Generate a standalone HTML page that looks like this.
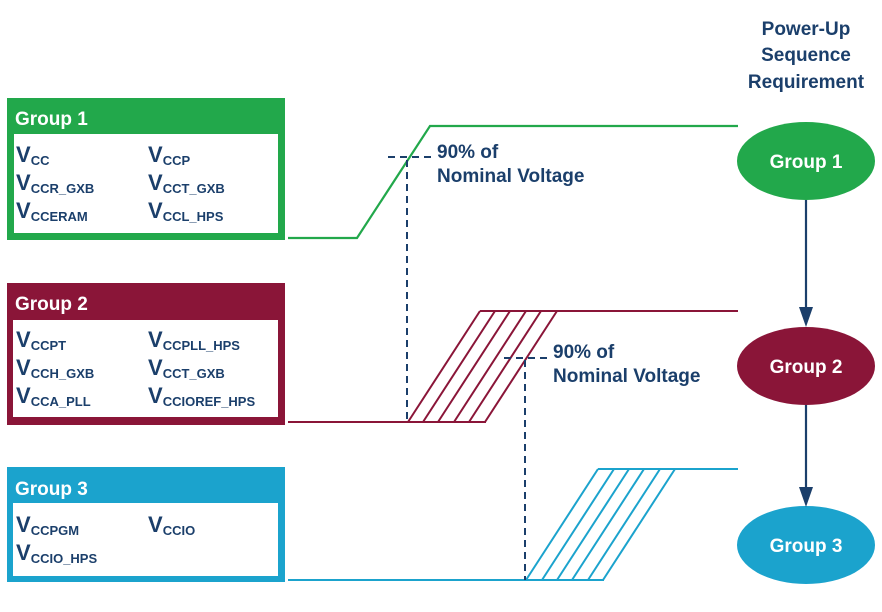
<!DOCTYPE html>
<html><head><meta charset="utf-8"><style>
html,body{margin:0;padding:0;background:#fff;}
svg{display:block;font-family:"Liberation Sans",Arial,sans-serif;font-weight:bold;}
.v{fill:#1b3f6b;font-size:22px;}
.s{font-size:13px;}
.t{fill:#1b3f6b;font-size:19px;}
.w{fill:#fff;font-size:19px;}
</style></head><body>
<svg width="882" height="612" viewBox="0 0 882 612" xmlns="http://www.w3.org/2000/svg">

<text x="806" y="35" text-anchor="middle" class="t">Power-Up</text>
<text x="806" y="61" text-anchor="middle" class="t">Sequence</text>
<text x="806" y="88" text-anchor="middle" class="t">Requirement</text>

<rect x="7" y="98" width="278" height="142" fill="#22a84b"/>
<rect x="14" y="134" width="264" height="99" fill="#fff"/>
<text x="15" y="125" class="w">Group 1</text>
<text x="16" y="162" class="v">V<tspan class="s" dy="3">CC</tspan></text>
<text x="148" y="162" class="v">V<tspan class="s" dy="3">CCP</tspan></text>
<text x="16" y="190" class="v">V<tspan class="s" dy="3">CCR_GXB</tspan></text>
<text x="148" y="190" class="v">V<tspan class="s" dy="3">CCT_GXB</tspan></text>
<text x="16" y="218" class="v">V<tspan class="s" dy="3">CCERAM</tspan></text>
<text x="148" y="218" class="v">V<tspan class="s" dy="3">CCL_HPS</tspan></text>

<rect x="7" y="283" width="278" height="142" fill="#8a1538"/>
<rect x="13" y="320" width="265" height="97" fill="#fff"/>
<text x="15" y="310" class="w">Group 2</text>
<text x="16" y="347" class="v">V<tspan class="s" dy="3">CCPT</tspan></text>
<text x="148" y="347" class="v">V<tspan class="s" dy="3">CCPLL_HPS</tspan></text>
<text x="16" y="375" class="v">V<tspan class="s" dy="3">CCH_GXB</tspan></text>
<text x="148" y="375" class="v">V<tspan class="s" dy="3">CCT_GXB</tspan></text>
<text x="16" y="403" class="v">V<tspan class="s" dy="3">CCA_PLL</tspan></text>
<text x="148" y="403" class="v">V<tspan class="s" dy="3">CCIOREF_HPS</tspan></text>

<rect x="7" y="467" width="278" height="115" fill="#1ba3cd"/>
<rect x="13" y="503" width="265" height="73" fill="#fff"/>
<text x="15" y="495" class="w">Group 3</text>
<text x="16" y="532" class="v">V<tspan class="s" dy="3">CCPGM</tspan></text>
<text x="148" y="532" class="v">V<tspan class="s" dy="3">CCIO</tspan></text>
<text x="16" y="560" class="v">V<tspan class="s" dy="3">CCIO_HPS</tspan></text>

<polyline points="288,238 357,238 430,126 738,126" fill="none" stroke="#22a84b" stroke-width="2.2"/>

<g stroke="#8a1538" stroke-width="2" fill="none">
<line x1="288" y1="422" x2="486" y2="422"/>
<line x1="480" y1="311" x2="738" y2="311"/>
<line x1="408" y1="422" x2="480" y2="311"/>
<line x1="423" y1="422" x2="495" y2="311"/>
<line x1="438" y1="422" x2="510" y2="311"/>
<line x1="454" y1="422" x2="526" y2="311"/>
<line x1="469" y1="422" x2="541" y2="311"/>
<line x1="485" y1="422" x2="557" y2="311"/>
</g>

<g stroke="#1ba3cd" stroke-width="2" fill="none">
<line x1="288" y1="580" x2="604" y2="580"/>
<line x1="598" y1="469" x2="738" y2="469"/>
<line x1="526" y1="580" x2="598" y2="469"/>
<line x1="542" y1="580" x2="614" y2="469"/>
<line x1="557" y1="580" x2="629" y2="469"/>
<line x1="572" y1="580" x2="644" y2="469"/>
<line x1="588" y1="580" x2="660" y2="469"/>
<line x1="603" y1="580" x2="675" y2="469"/>
</g>

<g stroke="#1b3f6b" stroke-width="2" stroke-dasharray="7,5" fill="none">
<line x1="407" y1="160" x2="407" y2="422"/>
<line x1="388" y1="157" x2="432" y2="157"/>
<line x1="525" y1="360" x2="525" y2="580"/>
<line x1="504" y1="358" x2="548" y2="358"/>
</g>

<text x="437" y="158" class="t">90% of</text>
<text x="437" y="182" class="t">Nominal Voltage</text>
<text x="553" y="358" class="t">90% of</text>
<text x="553" y="382" class="t">Nominal Voltage</text>

<ellipse cx="806" cy="161" rx="69" ry="39" fill="#22a84b"/>
<text x="806" y="168" text-anchor="middle" class="w">Group 1</text>
<ellipse cx="806" cy="366" rx="69" ry="39" fill="#8a1538"/>
<text x="806" y="373" text-anchor="middle" class="w">Group 2</text>
<ellipse cx="806" cy="545" rx="69" ry="39" fill="#1ba3cd"/>
<text x="806" y="552" text-anchor="middle" class="w">Group 3</text>

<g stroke="#1b3f6b" stroke-width="2.2">
<line x1="806" y1="200" x2="806" y2="310"/>
<line x1="806" y1="405" x2="806" y2="490"/>
</g>
<path d="M799,307 L813,307 L806,327 z" fill="#1b3f6b"/>
<path d="M799,487 L813,487 L806,507 z" fill="#1b3f6b"/>
</svg>
</body></html>
